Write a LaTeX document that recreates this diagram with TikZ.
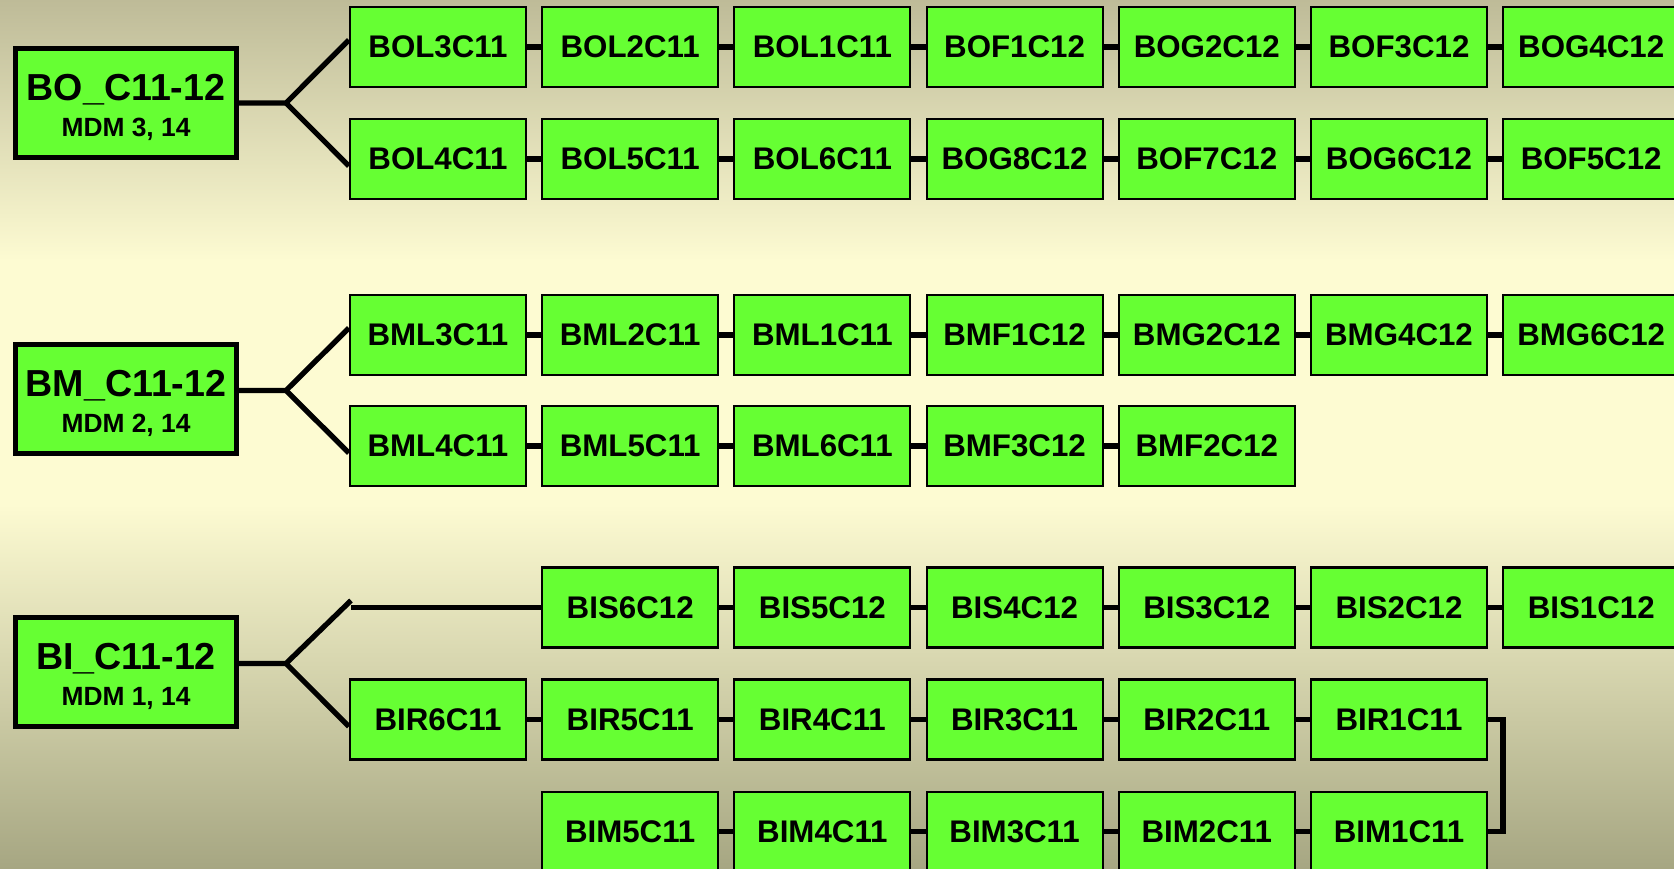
\documentclass[tikz,border=0pt]{standalone}
\usepackage{fontspec}
\setmainfont{Liberation Sans}
\definecolor{cellgreen}{HTML}{66FF33}
\definecolor{bgtop}{HTML}{BEBB98}
\definecolor{bgmid}{HTML}{FDFBD2}
\definecolor{bgbot}{HTML}{A6A682}
\pgfdeclareverticalshading{bgfade}{100bp}{color(0bp)=(bgbot); color(25bp)=(bgbot); color(46bp)=(bgmid); color(60bp)=(bgmid); color(75bp)=(bgtop); color(100bp)=(bgtop)}

\begin{document}
\begin{tikzpicture}[
    cell/.style={draw, line width=0.6pt, fill=cellgreen, minimum width=1.76cm, minimum height=0.80cm, inner sep=0pt, font=\fontsize{8.9}{10}\selectfont\bfseries},
    hub/.style={draw, line width=1.5pt, fill=cellgreen, minimum width=2.21cm, minimum height=1.09cm, inner sep=0pt, align=center, font=\fontsize{10.7}{10}\selectfont\bfseries},
    link/.style={line width=1.5pt}]
  \path[use as bounding box, clip] (0,0) rectangle (16.74,8.69);
  \shade[shading=bgfade] (0,0) rectangle (16.74,8.69);

  % BO group
  \node[hub] (bo) at (1.26,7.66) {\rule{0pt}{10pt}BO\_C11-12\\{\fontsize{7.5}{8}\selectfont MDM 3, 14}};
  \coordinate (bofork) at (2.86,7.66);
  \foreach \name [count=\i] in {BOL3C11,BOL2C11,BOL1C11,BOF1C12,BOG2C12,BOF3C12,BOG4C12}
    \node[cell] (bo1-\i) at ({4.38+(\i-1)*1.922},8.22) {\name};
  \foreach \name [count=\i] in {BOL4C11,BOL5C11,BOL6C11,BOG8C12,BOF7C12,BOG6C12,BOF5C12}
    \node[cell] (bo2-\i) at ({4.38+(\i-1)*1.922},7.10) {\name};
  \draw[link] (bo.east |- bofork) -- (bofork) -- ([yshift=0.7mm]bo1-1.west);
  \draw[link] (bofork) -- ([yshift=-0.7mm]bo2-1.west);
  \foreach \i [evaluate=\i as \j using int(\i-1)] in {2,...,7} {
    \draw[link] (bo1-\j.east) -- (bo1-\i.west);
    \draw[link] (bo2-\j.east) -- (bo2-\i.west);
  }

  % BM group
  \node[hub] (bm) at (1.26,4.70) {\rule{0pt}{10pt}BM\_C11-12\\{\fontsize{7.5}{8}\selectfont MDM 2, 14}};
  \coordinate (bmfork) at (2.86,4.785);
  \foreach \name [count=\i] in {BML3C11,BML2C11,BML1C11,BMF1C12,BMG2C12,BMG4C12,BMG6C12}
    \node[cell] (bm1-\i) at ({4.38+(\i-1)*1.922},5.34) {\name};
  \foreach \name [count=\i] in {BML4C11,BML5C11,BML6C11,BMF3C12,BMF2C12}
    \node[cell] (bm2-\i) at ({4.38+(\i-1)*1.922},4.23) {\name};
  \draw[link] (bm.east |- bmfork) -- (bmfork) -- ([yshift=0.7mm]bm1-1.west);
  \draw[link] (bmfork) -- ([yshift=-0.7mm]bm2-1.west);
  \foreach \i [evaluate=\i as \j using int(\i-1)] in {2,...,7}
    \draw[link] (bm1-\j.east) -- (bm1-\i.west);
  \foreach \i [evaluate=\i as \j using int(\i-1)] in {2,...,5}
    \draw[link] (bm2-\j.east) -- (bm2-\i.west);

  % BI group
  \node[hub] (bi) at (1.26,1.97) {\rule{0pt}{10pt}BI\_C11-12\\{\fontsize{7.5}{8}\selectfont MDM 1, 14}};
  \coordinate (bifork) at (2.86,2.055);
  \coordinate (bis0) at (3.51,2.615);
  \foreach \name [count=\i from 2] in {BIS6C12,BIS5C12,BIS4C12,BIS3C12,BIS2C12,BIS1C12}
    \node[cell] (bi1-\i) at ({4.38+(\i-1)*1.922},2.615) {\name};
  \foreach \name [count=\i] in {BIR6C11,BIR5C11,BIR4C11,BIR3C11,BIR2C11,BIR1C11}
    \node[cell] (bi2-\i) at ({4.38+(\i-1)*1.922},1.495) {\name};
  \foreach \name [count=\i from 2] in {BIM5C11,BIM4C11,BIM3C11,BIM2C11,BIM1C11}
    \node[cell] (bi3-\i) at ({4.38+(\i-1)*1.922},0.373) {\name};
  \draw[link] (bi.east |- bifork) -- (bifork) -- ([yshift=0.7mm]bis0);
  \draw[link] (bis0) -- (bi1-2.west);
  \draw[link] (bifork) -- ([yshift=-0.7mm]bi2-1.west);
  \foreach \i [evaluate=\i as \j using int(\i-1)] in {3,...,7}
    \draw[link] (bi1-\j.east) -- (bi1-\i.west);
  \foreach \i [evaluate=\i as \j using int(\i-1)] in {2,...,6}
    \draw[link] (bi2-\j.east) -- (bi2-\i.west);
  \foreach \i [evaluate=\i as \j using int(\i-1)] in {3,...,6}
    \draw[link] (bi3-\j.east) -- (bi3-\i.west);
  \draw[link] (bi2-6.east) -- ++(0.15,0) |- (bi3-6.east);
\end{tikzpicture}
\end{document}
